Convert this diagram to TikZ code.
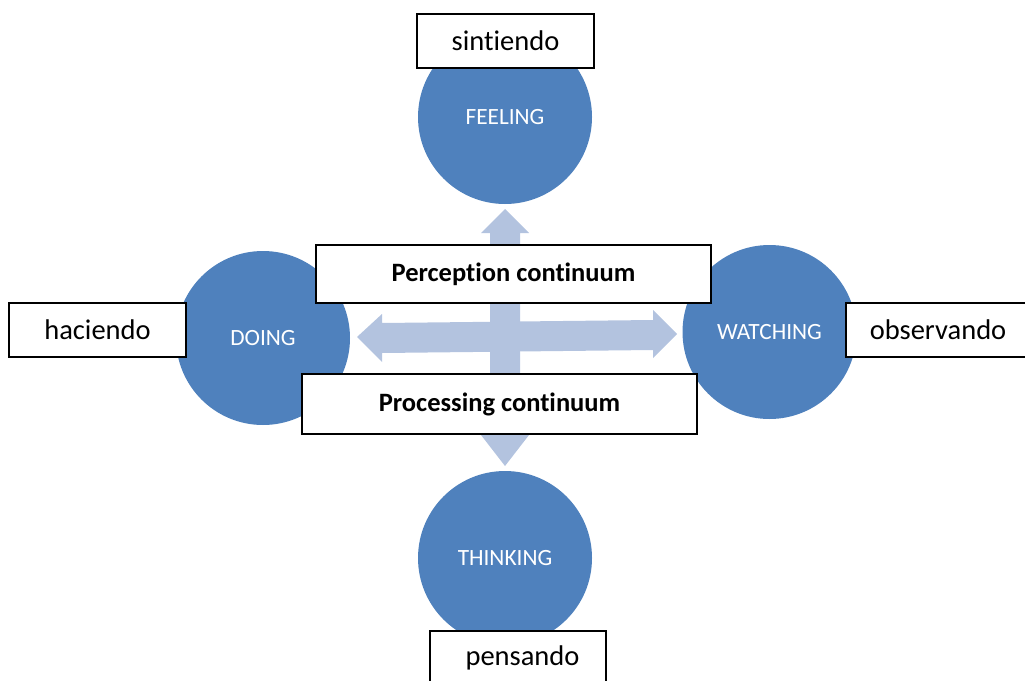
\documentclass[tikz,border=0pt]{standalone}
\usepackage{fontspec}
\setmainfont{Carlito}[Ligatures=NoCommon]
\definecolor{circblue}{HTML}{4F81BD}
\definecolor{arrowblue}{HTML}{B3C3DF}
\begin{document}
\begin{tikzpicture}[x=1pt,y=-1pt,
  circ/.style={circle,fill=circblue,draw=none,minimum size=174pt,inner sep=0pt,text=white,font=\fontsize{23.3}{25}\selectfont},
  lbox/.style={draw=black,line width=1.6pt,fill=white,minimum width=177pt,minimum height=54pt,inner sep=0pt,font=\fontsize{28.5}{30}\selectfont},
  bbox/.style={draw=black,line width=1.6pt,fill=white,minimum width=395pt,minimum height=58pt,inner sep=0pt,font=\fontsize{26.5}{28}\selectfont\bfseries},
  arr/.style={fill=arrowblue,draw=none}]
\useasboundingbox (0,0) rectangle (1025,680);
% circles
\node[circ] (feel) at (505,117) {FEELING};
\node[circ] (doing) at (263,338) {DOING};
\node[circ] (watch) at (769.5,332) {WATCHING};
\node[circ] (think) at (505,558) {THINKING};
% arrow tips
\coordinate (vt) at (505,209);
\coordinate (vb) at (505,466);
\coordinate (hl) at (357,337);
\coordinate (hr) at (677,334);
% vertical double arrow
\fill[arr] (vt) -- ++(24,24) -- ++(-9,0) -- (520,435) -- (529,435) -- (vb) -- (481,435) -- (490,435) -- (490,233) -- (481,233) -- cycle;
% horizontal double arrow
\fill[arr] (hl) -- (382,314) -- (382,323) -- (653,320) -- (653,310) -- (hr) -- (653,358) -- (653,350) -- (382,353) -- (382,362) -- cycle;
% boxes
\node[lbox] (sin) at (505.5,41) {sintiendo};
\node[lbox,minimum width=176pt] (pen) at (518,658) {\hspace*{9pt}pensando};
\node[lbox] (hac) at (97.5,330) {haciendo};
\node[lbox,minimum width=184pt] (obs) at (938,330) {observando};
\node[bbox] (per) at (513.5,274) {Perception continuum};
\node[bbox,minimum height=60pt] (pro) at (499.5,404) {Processing continuum};
\end{tikzpicture}
\end{document}
